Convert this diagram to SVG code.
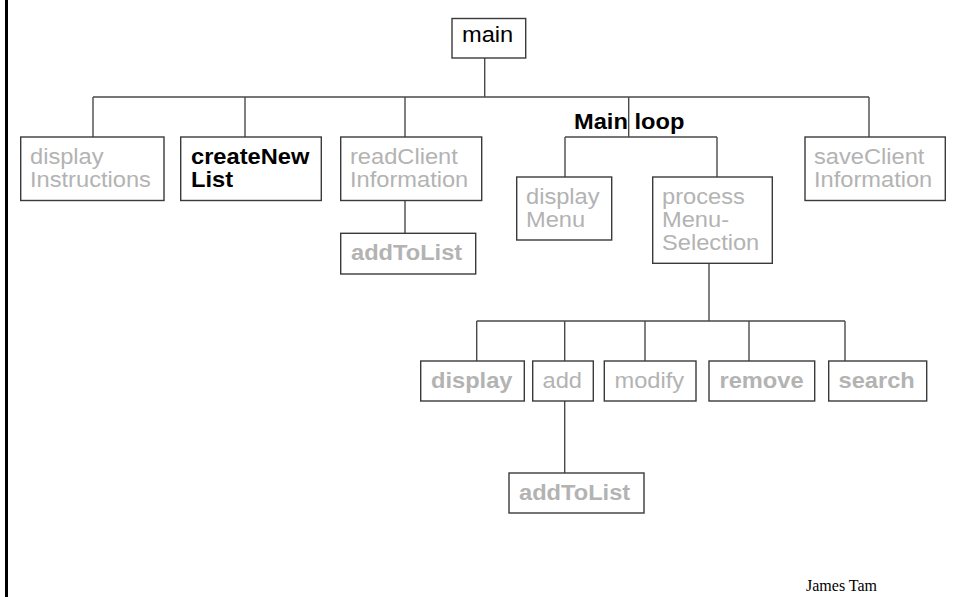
<svg xmlns="http://www.w3.org/2000/svg" width="957" height="597" viewBox="0 0 957 597">
  <style>
    .box { fill: #ffffff; stroke: #3a3a3a; stroke-width: 1.4; }
    .lnk { fill: none; stroke: #4a4a4a; stroke-width: 1.4; }
    .t { font-family: "Liberation Sans", Arial, sans-serif; font-size: 21.5px; }
    .dim { fill: #b3b3b3; }
    .dark { fill: #000000; }
    .b { font-weight: bold; }
    .credit { font-family: "Liberation Serif", "Times New Roman", serif; font-size: 16px; fill: #000000; }
  </style>

  <rect width="957" height="597" fill="#ffffff"/>
  <!-- slide edge on the left -->
  <line x1="6.5" y1="0" x2="6.5" y2="597" stroke="#000000" stroke-width="3"/>

  <g id="connectors">
    <!-- main to first level -->
    <path class="lnk" d="M484.7 58 V97 M93 97 H869 M93 97 V137 M245 97 V137 M405 97 V137 M628.7 97 V137 M869 97 V137"/>
    <!-- readClientInformation to addToList -->
    <path class="lnk" d="M405 200.5 V233.3"/>
    <!-- main loop branches -->
    <path class="lnk" d="M565 137 H717 M565 137 V177 M717 137 V177"/>
    <!-- processMenuSelection to its handlers -->
    <path class="lnk" d="M709 263.3 V321 M476.7 321 H845 M476.7 321 V361 M564.7 321 V361 M645 321 V361 M749 321 V361 M845 321 V361"/>
    <!-- add to addToList -->
    <path class="lnk" d="M564.7 401 V473"/>
  </g>

  <!-- labels use a slightly widened face: translate to the baseline origin, then stretch x by 1.1 -->
  <g id="main">
    <rect class="box" x="452" y="18.5" width="73.7" height="39.5"/>
    <text class="t dark" transform="translate(462 42) scale(1.1 1)">main</text>
  </g>

  <g id="displayInstructions">
    <rect class="box" x="20.7" y="137" width="143.3" height="63.5"/>
    <text class="t dim" transform="translate(30 164) scale(1.1 1)">display</text>
    <text class="t dim" transform="translate(30 186.5) scale(1.1 1)">Instructions</text>
  </g>

  <g id="createNewList">
    <rect class="box" x="180.7" y="137" width="140.6" height="63.5"/>
    <text class="t dark b" transform="translate(191 164) scale(1.1 1)">createNew</text>
    <text class="t dark b" transform="translate(191 186.5) scale(1.1 1)">List</text>
  </g>

  <g id="readClientInformation">
    <rect class="box" x="340.7" y="137" width="141" height="63.5"/>
    <text class="t dim" transform="translate(350 164) scale(1.1 1)">readClient</text>
    <text class="t dim" transform="translate(350 186.5) scale(1.1 1)">Information</text>
  </g>

  <g id="addToListRead">
    <rect class="box" x="340.7" y="233.3" width="135" height="40.7"/>
    <text class="t dim b" transform="translate(351 260) scale(1.1 1)">addToList</text>
  </g>

  <g id="mainLoop">
    <text class="t dark b" transform="translate(574 128.5) scale(1.1 1)">Main loop</text>
  </g>

  <g id="displayMenu">
    <rect class="box" x="516.7" y="177" width="95" height="63"/>
    <text class="t dim" transform="translate(526 203.8) scale(1.1 1)">display</text>
    <text class="t dim" transform="translate(526 226.8) scale(1.1 1)">Menu</text>
  </g>

  <g id="processMenuSelection">
    <rect class="box" x="652.7" y="177" width="119.6" height="86.3"/>
    <text class="t dim" transform="translate(662 203.8) scale(1.1 1)">process</text>
    <text class="t dim" transform="translate(662 226.8) scale(1.1 1)">Menu-</text>
    <text class="t dim" transform="translate(662 250) scale(1.1 1)">Selection</text>
  </g>

  <g id="saveClientInformation">
    <rect class="box" x="805" y="137" width="140.3" height="63.5"/>
    <text class="t dim" transform="translate(814 164) scale(1.1 1)">saveClient</text>
    <text class="t dim" transform="translate(814 186.5) scale(1.1 1)">Information</text>
  </g>

  <g id="display">
    <rect class="box" x="420.7" y="361" width="103.6" height="40"/>
    <text class="t dim b" transform="translate(431 387.5) scale(1.1 1)">display</text>
  </g>

  <g id="add">
    <rect class="box" x="532.7" y="361" width="60.6" height="40"/>
    <text class="t dim" transform="translate(542.5 387.5) scale(1.1 1)">add</text>
  </g>

  <g id="modify">
    <rect class="box" x="604.3" y="361" width="91.7" height="40"/>
    <text class="t dim" transform="translate(614.5 387.5) scale(1.1 1)">modify</text>
  </g>

  <g id="remove">
    <rect class="box" x="709" y="361" width="105.7" height="40"/>
    <text class="t dim b" transform="translate(719.5 387.5) scale(1.1 1)">remove</text>
  </g>

  <g id="search">
    <rect class="box" x="828.7" y="361" width="98" height="40"/>
    <text class="t dim b" transform="translate(838.5 387.5) scale(1.1 1)">search</text>
  </g>

  <g id="addToListAdd">
    <rect class="box" x="509" y="473" width="135" height="40"/>
    <text class="t dim b" transform="translate(519 499.5) scale(1.1 1)">addToList</text>
  </g>

  <text class="credit" x="806" y="591">James Tam</text>
</svg>
